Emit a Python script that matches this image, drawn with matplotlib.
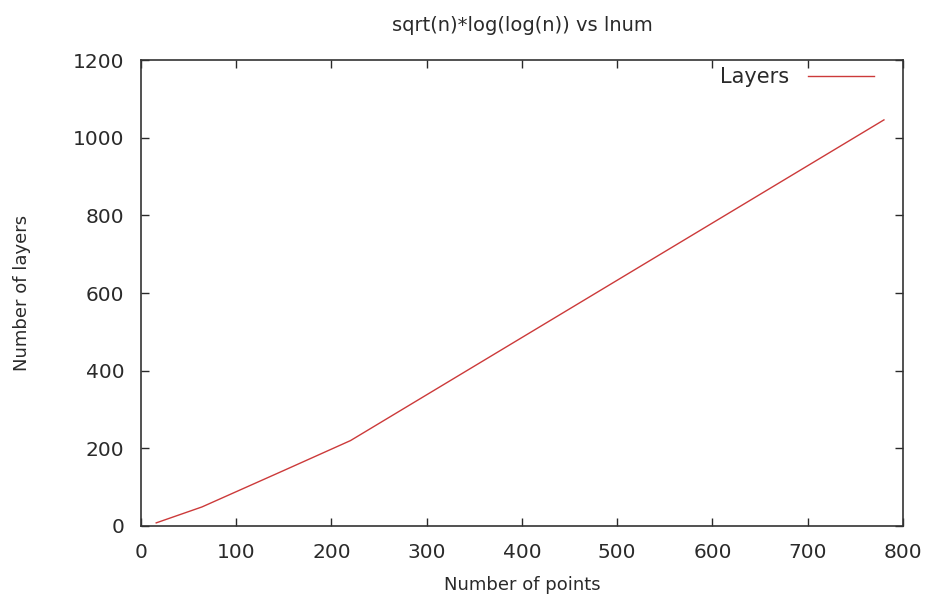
# Layers vs number of points (gnuplot-style line chart)
import matplotlib
matplotlib.use('Agg')
import matplotlib.pyplot as plt

# Data
points = [16, 64, 150, 220, 780]
layers = [8, 49, 143, 220, 1046]

x_ticks = [0, 100, 200, 300, 400, 500, 600, 700, 800]
y_ticks = [0, 200, 400, 600, 800, 1000, 1200]

plt.rcParams['font.family'] = ['DejaVu Sans']

fig = plt.figure(figsize=(9.25, 5.95), dpi=100)
ax = fig.add_axes([0.1524, 0.116, 0.8238, 0.783])

ax.plot(points, layers, color='#cc3a3a', linewidth=1.0, label='Layers')

ax.set_xlim(0, 800)
ax.set_ylim(0, 1200)
ax.set_xticks(x_ticks)
ax.set_yticks(y_ticks)
ax.tick_params(direction='in', top=True, right=True, length=6, width=1,
               labelsize=14.5, colors='#2a2a2a', pad=12)
for side in ax.spines.values():
    side.set_color('#333333')
    side.set_linewidth(1.2)

ax.set_title('sqrt(n)*log(log(n)) vs lnum', fontsize=14, color='#2a2a2a', pad=21)
ax.set_xlabel('Number of points', fontsize=13, color='#2a2a2a', labelpad=10)
ax.set_ylabel('Number of layers', fontsize=13, color='#2a2a2a', labelpad=30)

leg = ax.legend(loc='upper right', bbox_to_anchor=(0.979, 1.011), frameon=False,
                fontsize=15, markerfirst=False, handlelength=3.2,
                borderaxespad=0.2, handletextpad=0.9)
for t in leg.get_texts():
    t.set_color('#2a2a2a')

fig.savefig('out.png', dpi=100)
